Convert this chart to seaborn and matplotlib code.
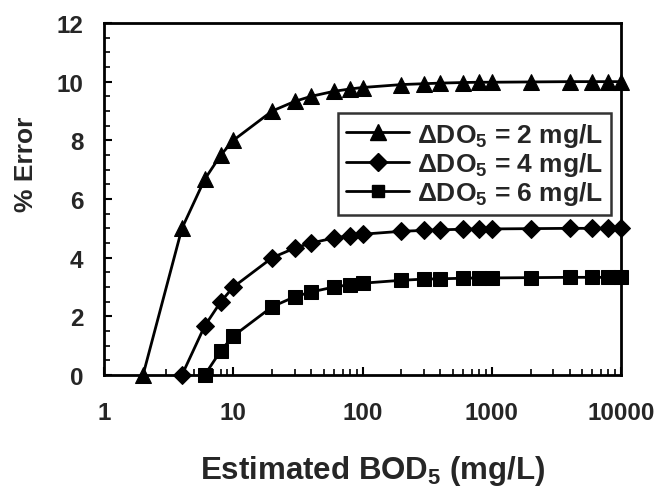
import seaborn as sns
import matplotlib.pyplot as plt
import matplotlib.ticker as mticker
from matplotlib.lines import Line2D
import pandas as pd

# Estimated BOD5 (mg/L) for each series
x_do2 = [2, 4, 6, 8, 10, 20, 30, 40, 60, 80, 100, 200, 300, 400, 600, 800,
         1000, 2000, 4000, 6000, 8000, 10000]
x_do4 = [4, 6, 8, 10, 20, 30, 40, 60, 80, 100, 200, 300, 400, 600, 800,
         1000, 2000, 4000, 6000, 8000, 10000]
x_do6 = [6, 8, 10, 20, 30, 40, 60, 80, 100, 200, 300, 400, 600, 800,
         1000, 2000, 4000, 6000, 8000, 10000]

# % Error
err_do2 = [0, 5.0, 6.67, 7.5, 8.0, 9.0, 9.33, 9.5, 9.67, 9.75, 9.8, 9.9, 9.93,
           9.95, 9.97, 9.98, 9.98, 9.99, 10.0, 10.0, 10.0, 10.0]
err_do4 = [0, 1.67, 2.5, 3.0, 4.0, 4.33, 4.5, 4.67, 4.75, 4.8, 4.9, 4.93, 4.95,
           4.97, 4.98, 4.98, 4.99, 5.0, 5.0, 5.0, 5.0]
err_do6 = [0, 0.83, 1.33, 2.33, 2.67, 2.83, 3.0, 3.08, 3.13, 3.23, 3.27, 3.28,
           3.3, 3.31, 3.31, 3.32, 3.33, 3.33, 3.33, 3.33]

labels = [r"ΔDO$_5$ = 2 mg/L", r"ΔDO$_5$ = 4 mg/L", r"ΔDO$_5$ = 6 mg/L"]
markers = ["^", "D", "s"]
msizes = [12, 9.5, 9.5]

sns.set_theme(style="white")
plt.rcParams["font.family"] = ["Liberation Sans", "DejaVu Sans"]
plt.rcParams["font.weight"] = "bold"
plt.rcParams["mathtext.fontset"] = "custom"
plt.rcParams["mathtext.rm"] = "Liberation Sans:bold"
plt.rcParams["mathtext.default"] = "rm"

frames = []
for xs, ys, lab in zip([x_do2, x_do4, x_do6], [err_do2, err_do4, err_do6], labels):
    frames.append(pd.DataFrame({"bod": xs, "err": ys, "series": lab}))
df = pd.concat(frames, ignore_index=True)

fig = plt.figure(figsize=(6.55, 4.89), dpi=100)
ax = fig.add_axes([0.159, 0.231, 0.789, 0.72])

for lab, m, ms in zip(labels, markers, msizes):
    sub = df[df["series"] == lab]
    sns.lineplot(data=sub, x="bod", y="err", ax=ax, color="black",
                 linewidth=2, marker=m, markersize=ms, markeredgecolor="black",
                 clip_on=False, legend=False, zorder=3)

ax.set_xscale("log")
ax.set_xlim(1, 10000)
ax.set_ylim(0, 12)
ax.xaxis.set_major_locator(mticker.FixedLocator([1, 10, 100, 1000, 10000]))
ax.xaxis.set_major_formatter(mticker.FixedFormatter(["1", "10", "100", "1000", "10000"]))
ax.xaxis.set_minor_locator(mticker.LogLocator(base=10, subs=range(2, 10)))
ax.xaxis.set_minor_formatter(mticker.NullFormatter())
ax.yaxis.set_major_locator(mticker.MultipleLocator(2))
ax.yaxis.set_minor_locator(mticker.MultipleLocator(0.5))

ax.tick_params(axis="both", which="both", direction="in", color="black",
               bottom=True, left=True, top=False, right=False)
ax.tick_params(axis="both", which="major", length=6, width=1.5, labelsize=17.5)
ax.tick_params(axis="both", which="minor", length=4, width=1.2)
ax.tick_params(axis="x", which="major", pad=18.5)
ax.tick_params(axis="y", which="major", pad=15)
for lbl in ax.get_xticklabels() + ax.get_yticklabels():
    lbl.set_fontweight("bold")

for sp in ax.spines.values():
    sp.set_color("black")
    sp.set_linewidth(2)

ax.set_xlabel(r"Estimated BOD$_5$ (mg/L)", fontsize=22.5, fontweight="bold")
ax.set_ylabel("% Error", fontsize=19, fontweight="bold")
ax.xaxis.set_label_coords(0.52, -0.222)
ax.yaxis.set_label_coords(-0.128, 0.6)

# Legend
handles = [Line2D([], [], color="black", linewidth=2, marker=m, markersize=ms * 0.95)
           for m, ms in zip(markers, msizes)]
leg = ax.legend(handles, labels, loc="upper right", bbox_to_anchor=(0.981, 0.745),
                borderaxespad=0, frameon=True, fancybox=False, fontsize=19,
                handlelength=2.4, handletextpad=0.3, labelspacing=0.05,
                borderpad=0.3)
leg.get_frame().set_edgecolor("black")
leg.get_frame().set_linewidth(1.8)
for t in leg.get_texts():
    t.set_fontweight("bold")

fig.savefig("out.png", dpi=100, facecolor="white")
